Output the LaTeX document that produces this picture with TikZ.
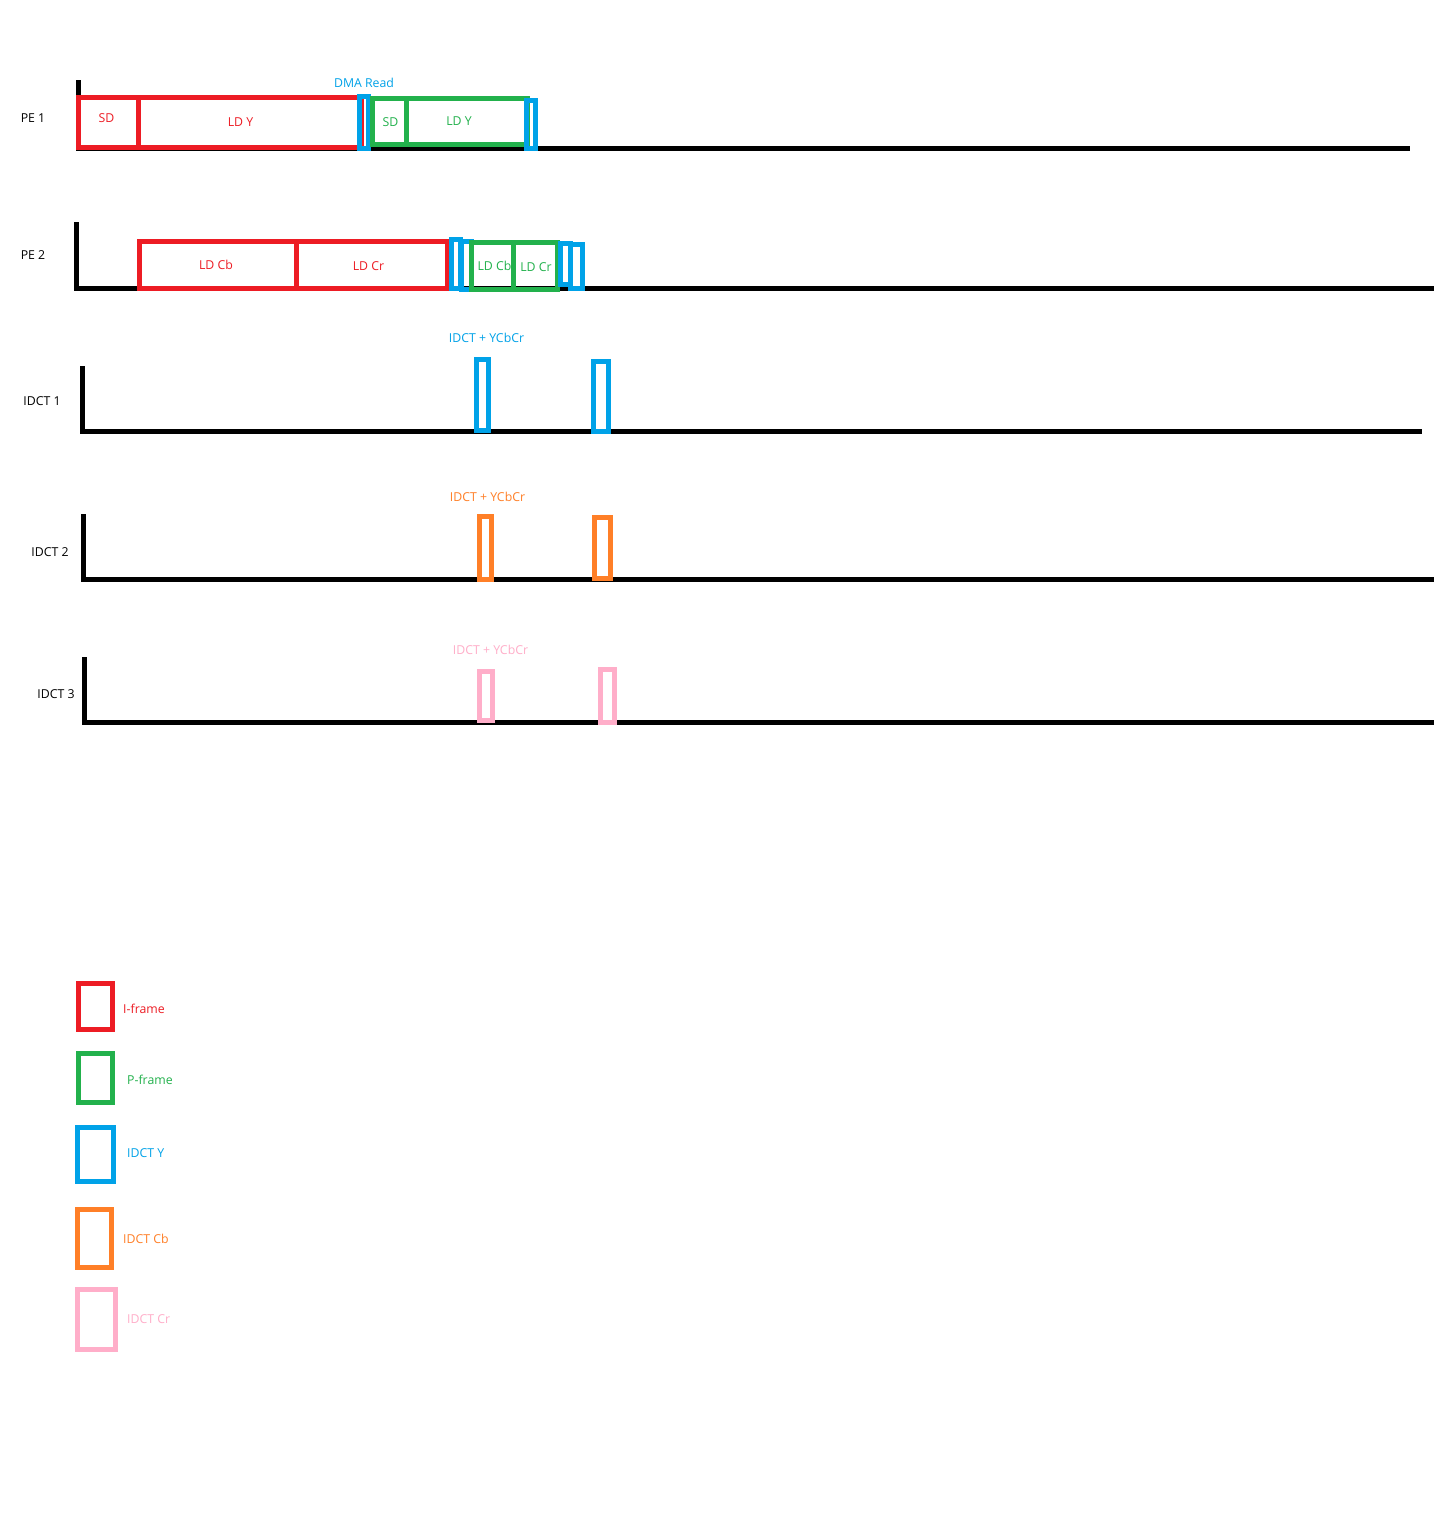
\documentclass[tikz,border=0pt]{standalone}
\usepackage{fontspec}
\setmainfont{Open Sans}
\definecolor{iRed}{HTML}{ED1C24}
\definecolor{pGreen}{HTML}{22B14C}
\definecolor{yBlue}{HTML}{00A2E8}
\definecolor{cbOrange}{HTML}{FF7F27}
\definecolor{crPink}{HTML}{FFAEC9}
\begin{document}
\begin{tikzpicture}[x=1pt,y=-1pt,
  every node/.style={font=\fontsize{12.3}{14}\selectfont},
  seg/.style={draw, line width=5pt, inner sep=0pt, outer sep=0pt, anchor=north west, line join=miter},
  axisline/.style={line width=5pt, black},
  lbl/.style={inner sep=0pt, anchor=center},
  leg/.style={inner sep=0pt, anchor=west}]
\useasboundingbox[fill=white] (0,0) rectangle (1434,1520);

% ---- time axes ----
\coordinate (a1t) at (78,80);   \coordinate (a1c) at (78,148.5);  \coordinate (a1e) at (1410,148.5);
\coordinate (a2t) at (76,222);  \coordinate (a2c) at (76,288);    \coordinate (a2e) at (1434,288);
\coordinate (a3t) at (82,366);  \coordinate (a3c) at (82,431.5);  \coordinate (a3e) at (1422,431.5);
\coordinate (a4t) at (83,514);  \coordinate (a4c) at (83,579.5);  \coordinate (a4e) at (1434,579.5);
\coordinate (a5t) at (84,657);  \coordinate (a5c) at (84,722.5);  \coordinate (a5e) at (1434,722.5);
\draw[axisline] (a1t) -- (a1c) -- (a1e);
\draw[axisline] (a2t) -- (a2c) -- (a2e);
\draw[axisline] (a3t) -- (a3c) -- (a3e);
\draw[axisline] (a4t) -- (a4c) -- (a4e);
\draw[axisline] (a5t) -- (a5c) -- (a5e);

% ---- row labels ----
\node[lbl] (lpe1) at (33,118) {PE 1};
\node[lbl] (lpe2) at (33,255) {PE 2};
\node[lbl] (lid1) at (42,401.5) {IDCT 1};
\node[lbl] (lid2) at (50,552) {IDCT 2};
\node[lbl] (lid3) at (56,694) {IDCT 3};

% ---- PE 1 ----
\node[seg, iRed, minimum width=60pt, minimum height=50pt] (p1sd) at (78.5,97.5) {};
\node[seg, iRed, minimum width=222.5pt, minimum height=50pt] (p1ly) at (138.5,97.5) {};
\node[seg, yBlue, minimum width=9pt, minimum height=52pt] (p1b1) at (359.5,96.5) {};
\node[seg, pGreen, minimum width=34pt, minimum height=46pt] (p1gsd) at (372.5,98.5) {};
\node[seg, pGreen, minimum width=120.5pt, minimum height=46pt] (p1gly) at (406.5,98.5) {};
\node[seg, yBlue, minimum width=8.5pt, minimum height=48.5pt] (p1b2) at (526.5,100) {};
\node[lbl, iRed] (t1) at (106.5,118) {SD};
\node[lbl, iRed] (t2) at (240.5,122) {LD Y};
\node[lbl, pGreen] (t3) at (390.5,122) {SD};
\node[lbl, pGreen] (t4) at (459,121) {LD Y};
\node[lbl, yBlue] (tdma) at (364,83) {DMA Read};

% ---- PE 2 ----
\node[seg, iRed, minimum width=156.5pt, minimum height=46.5pt] (p2cb) at (139.5,241.5) {};
\node[seg, iRed, minimum width=151.5pt, minimum height=46.5pt] (p2cr) at (296,241.5) {};
\node[seg, yBlue, minimum width=9pt, minimum height=49pt] (p2b1) at (451.5,239.5) {};
\node[seg, yBlue, minimum width=10pt, minimum height=48pt] (p2b2) at (461.5,241.5) {};
\node[seg, pGreen, minimum width=41.5pt, minimum height=47pt] (p2gcb) at (471.5,242.5) {};
\node[seg, pGreen, minimum width=44.5pt, minimum height=47pt] (p2gcr) at (513,242.5) {};
\node[seg, yBlue, minimum width=10pt, minimum height=41pt] (p2b3) at (560.5,243.5) {};
\node[seg, yBlue, minimum width=12pt, minimum height=44pt] (p2b4) at (570.5,244.5) {};
\node[lbl, iRed] (t5) at (216,265) {LD Cb};
\node[lbl, iRed] (t6) at (368.5,266) {LD Cr};
\node[lbl, pGreen] (t7) at (494.5,266) {LD Cb};
\node[lbl, pGreen] (t8) at (536,267) {LD Cr};

% ---- IDCT 1 ----
\node[seg, yBlue, minimum width=12pt, minimum height=71pt] (i1a) at (476.5,359.5) {};
\node[seg, yBlue, minimum width=15pt, minimum height=70pt] (i1b) at (593.5,361.5) {};
\node[lbl, yBlue] (ti1) at (486.5,338) {IDCT + YCbCr};

% ---- IDCT 2 ----
\node[seg, cbOrange, minimum width=12pt, minimum height=63pt] (i2a) at (479.5,516.5) {};
\node[seg, cbOrange, minimum width=16pt, minimum height=61pt] (i2b) at (594.5,517.5) {};
\node[lbl, cbOrange] (ti2) at (487.5,497) {IDCT + YCbCr};

% ---- IDCT 3 ----
\node[seg, crPink, minimum width=13pt, minimum height=49pt] (i3a) at (479.5,671.5) {};
\node[seg, crPink, minimum width=14pt, minimum height=53pt] (i3b) at (600.5,669.5) {};
\node[lbl, crPink] (ti3) at (490.5,650) {IDCT + YCbCr};

% ---- legend ----
\node[seg, iRed, minimum width=34pt, minimum height=46pt] (lgI) at (78.5,983.5) {};
\node[seg, pGreen, minimum width=34pt, minimum height=49pt] (lgP) at (78.5,1053.5) {};
\node[seg, yBlue, minimum width=36pt, minimum height=54pt] (lgY) at (77.5,1127.5) {};
\node[seg, cbOrange, minimum width=34pt, minimum height=58pt] (lgCb) at (77.5,1209.5) {};
\node[seg, crPink, minimum width=38pt, minimum height=60pt] (lgCr) at (77.5,1289.5) {};
\node[leg, iRed] (tlI) at (123,1009) {I-frame};
\node[leg, pGreen] (tlP) at (127,1080) {P-frame};
\node[leg, yBlue] (tlY) at (127,1153) {IDCT Y};
\node[leg, cbOrange] (tlCb) at (123,1239) {IDCT Cb};
\node[leg, crPink] (tlCr) at (127,1319) {IDCT Cr};
\end{tikzpicture}
\end{document}
